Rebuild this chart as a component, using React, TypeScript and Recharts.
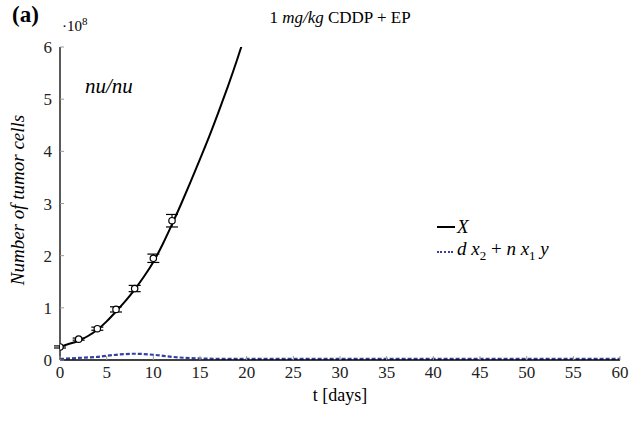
import { ComposedChart, Line, Scatter, ErrorBar, XAxis, YAxis } from "recharts"

// model curve X(t), in units of 1e8 cells
const modelDays = [0, 1, 2, 3, 4, 5, 6, 7, 8, 9, 10, 11, 12, 13, 14, 15, 16, 17, 18, 19, 20]
const modelX = [0.25, 0.31, 0.37, 0.46, 0.58, 0.74, 0.93, 1.13, 1.35, 1.6, 1.88, 2.22, 2.6, 3.0, 3.42, 3.85, 4.29, 4.76, 5.25, 5.77, 6.32]

// dead/dying compartment d*x2 + n*x1*y
const deadDays = [0, 2, 4, 6, 8, 10, 12, 14, 16, 18, 20, 25, 30, 35, 40, 45, 50, 55, 60]
const deadVals = [0.02, 0.04, 0.06, 0.1, 0.12, 0.1, 0.06, 0.035, 0.025, 0.022, 0.02, 0.02, 0.02, 0.02, 0.02, 0.02, 0.02, 0.02, 0.02]

// measured tumor sizes with error bars
const obsDays = [0, 2, 4, 6, 8, 10, 12]
const obsVals = [0.25, 0.4, 0.6, 0.97, 1.37, 1.95, 2.67]
const obsErr = [0.02, 0.02, 0.03, 0.05, 0.06, 0.08, 0.12]

const xTicks = [0, 5, 10, 15, 20, 25, 30, 35, 40, 45, 50, 55, 60]
const yTicks = [0, 1, 2, 3, 4, 5, 6]

const modelData = modelDays.map((t, i) => ({ t, v: modelX[i] }))
const deadData = deadDays.map((t, i) => ({ t, v: deadVals[i] }))
const obsData = obsDays.map((t, i) => ({ t, v: obsVals[i], err: obsErr[i] }))

const FONT = "Liberation Serif"
const TICK_GRAY = "#9a9a9a"
const BLUE = "#3540a5"

const BottomTick = (props: any) => {
  const { x, y, payload } = props
  const axisY = y - 12
  return (
    <g>
      <line x1={x} x2={x} y1={axisY} y2={axisY - 4} stroke={TICK_GRAY} />
      <text x={x} y={y} dy={6} textAnchor="middle" style={{ fontFamily: FONT, fontSize: 17 }} fill="#222">
        {payload.value}
      </text>
    </g>
  )
}

const LeftTick = (props: any) => {
  const { x, y, payload } = props
  const axisX = x + 8
  return (
    <g>
      <line x1={axisX} x2={axisX + 4} y1={y} y2={y} stroke={TICK_GRAY} />
      <text x={x} y={y} dy={6} textAnchor="end" style={{ fontFamily: FONT, fontSize: 17 }} fill="#222">
        {payload.value}
      </text>
    </g>
  )
}

const TopTick = (props: any) => {
  const { x, y } = props
  return <line x1={x} x2={x} y1={y} y2={y + 4} stroke={TICK_GRAY} />
}

const RightTick = (props: any) => {
  const { x, y } = props
  return <line x1={x} x2={x - 4} y1={y} y2={y} stroke={TICK_GRAY} />
}

const OpenCircle = (props: any) => {
  const { cx, cy } = props
  return <circle cx={cx} cy={cy} r={3.2} fill="#fff" stroke="#000" strokeWidth={1.2} />
}

export default function App() {
  return (
    <div style={{ position: "absolute", left: 0, top: 0, width: 630, height: 423, background: "#fff", fontFamily: FONT }}>
      <ComposedChart width={630} height={423} margin={{ top: 47, right: 10, left: 40, bottom: 33 }}>
        <XAxis
          dataKey="t"
          type="number"
          domain={[0, 60]}
          ticks={xTicks}
          allowDataOverflow
          height={30}
          tickSize={0}
          tickMargin={12}
          tickLine={false}
          axisLine={{ stroke: "#000", strokeWidth: 1.3 }}
          tick={<BottomTick />}
        />
        <XAxis
          xAxisId="top"
          orientation="top"
          dataKey="t"
          type="number"
          domain={[0, 60]}
          ticks={xTicks}
          height={0}
          tickSize={0}
          tickMargin={0}
          tickLine={false}
          axisLine={{ stroke: "#000", strokeWidth: 1.3 }}
          tick={<TopTick />}
        />
        <YAxis
          type="number"
          domain={[0, 6]}
          ticks={yTicks}
          allowDataOverflow
          width={20}
          tickSize={0}
          tickMargin={8}
          tickLine={false}
          axisLine={{ stroke: "#000", strokeWidth: 1.3 }}
          tick={<LeftTick />}
        />
        <YAxis
          yAxisId="right"
          orientation="right"
          type="number"
          domain={[0, 6]}
          ticks={yTicks}
          width={0}
          tickSize={0}
          tickMargin={0}
          tickLine={false}
          axisLine={{ stroke: "#000", strokeWidth: 1.3 }}
          tick={<RightTick />}
        />
        <Line
          data={deadData}
          dataKey="v"
          type="monotone"
          stroke={BLUE}
          strokeWidth={2.2}
          strokeDasharray="4 2"
          dot={false}
          isAnimationActive={false}
        />
        <Line
          data={modelData}
          dataKey="v"
          type="natural"
          stroke="#000"
          strokeWidth={2}
          dot={false}
          isAnimationActive={false}
        />
        <Scatter data={obsData} dataKey="v" shape={<OpenCircle />} isAnimationActive={false}>
          <ErrorBar dataKey="err" direction="y" width={6} stroke="#000" strokeWidth={1.2} />
        </Scatter>
      </ComposedChart>

      <div style={{ position: "absolute", left: 12, top: 2, fontWeight: "bold", fontSize: 23 }}>(a)</div>
      <div style={{ position: "absolute", left: 62, top: 15, fontSize: 15 }}>
        ·10<sup style={{ fontSize: 11 }}>8</sup>
      </div>
      <div style={{ position: "absolute", left: 0, width: 680, top: 8, textAlign: "center", fontSize: 17 }}>
        1 <i>mg/kg</i> CDDP + EP
      </div>
      <div style={{ position: "absolute", left: 85, top: 74, fontStyle: "italic", fontSize: 21 }}>nu/nu</div>
      <div
        style={{
          position: "absolute",
          left: 18,
          top: 200,
          transform: "translate(-50%, -50%) rotate(-90deg)",
          whiteSpace: "nowrap",
          fontStyle: "italic",
          fontSize: 19,
        }}
      >
        Number of tumor cells
      </div>
      <div style={{ position: "absolute", left: 0, width: 680, top: 385, textAlign: "center", fontSize: 18 }}>
        t [days]
      </div>

      <div style={{ position: "absolute", left: 437, top: 216, fontSize: 19, fontStyle: "italic", lineHeight: "22px" }}>
        <div style={{ display: "flex", alignItems: "center" }}>
          <span style={{ display: "inline-block", width: 18, borderTop: "2.5px solid #000", marginRight: 2 }} />
          <span>X</span>
        </div>
        <div style={{ display: "flex", alignItems: "center" }}>
          <span style={{ display: "inline-block", width: 16, borderTop: `2px dotted ${BLUE}`, marginRight: 4 }} />
          <span>
            d x<sub style={{ fontSize: 13, fontStyle: "normal" }}>2</sub>
            <span style={{ fontStyle: "normal" }}> + </span>n x<sub style={{ fontSize: 13, fontStyle: "normal" }}>1</sub> y
          </span>
        </div>
      </div>
    </div>
  )
}
